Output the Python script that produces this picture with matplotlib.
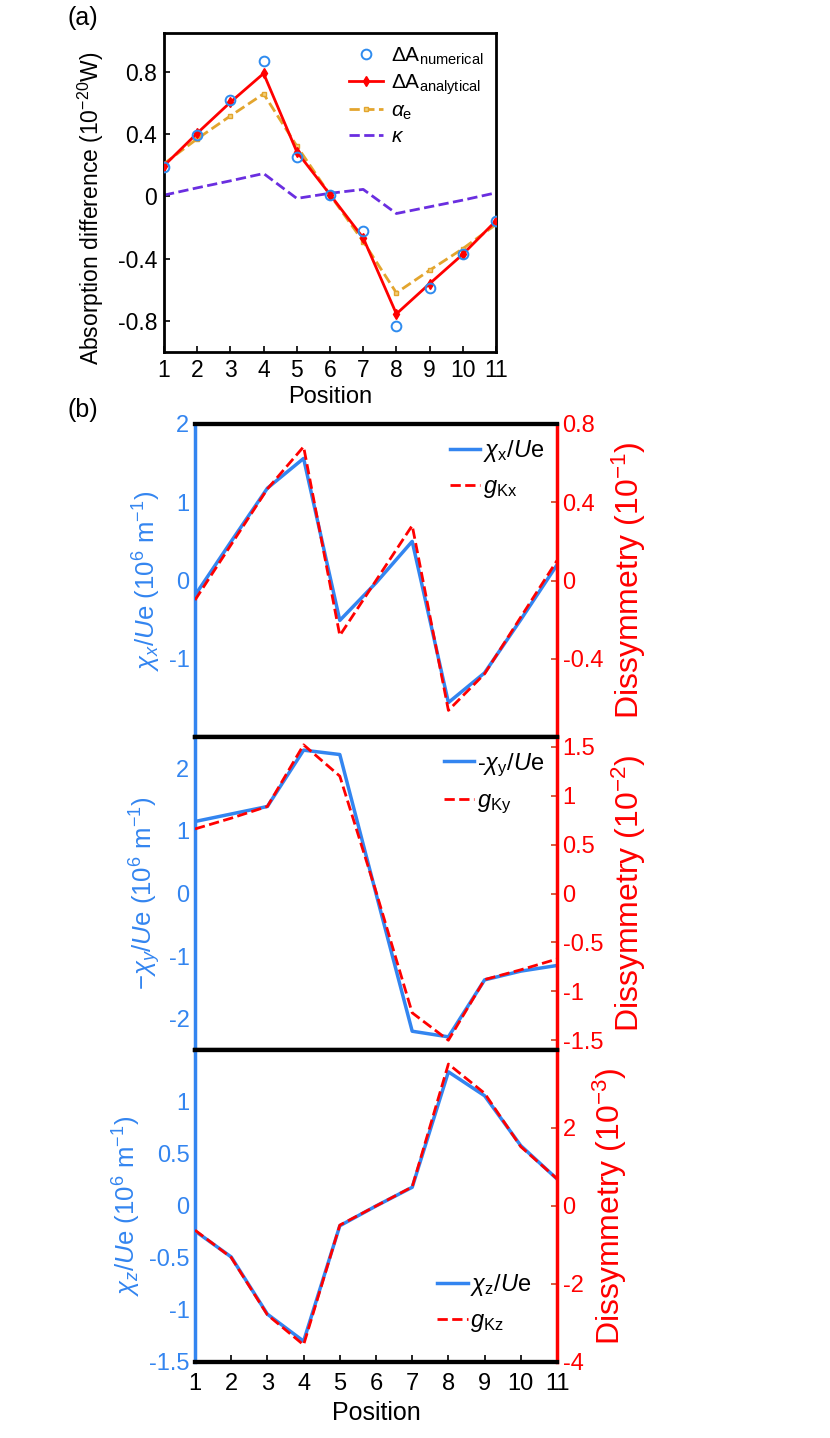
"""Absorption difference and chirality / dissymmetry versus position."""

import matplotlib

matplotlib.use("Agg")
import matplotlib.pyplot as plt
from matplotlib.lines import Line2D

plt.rcParams["font.family"] = ["Liberation Sans", "DejaVu Sans"]
plt.rcParams["mathtext.fontset"] = "custom"
plt.rcParams["mathtext.rm"] = "Liberation Sans"
plt.rcParams["mathtext.it"] = "Liberation Sans:italic"
plt.rcParams["mathtext.bf"] = "Liberation Sans:bold"
plt.rcParams["mathtext.sf"] = "Liberation Sans"
plt.rcParams["axes.unicode_minus"] = False

BLUE = "#3385f0"
RED = "#ff0000"
ORANGE = "#e3a52e"
PURPLE = "#6a2ee0"
CIRCLE_BLUE = "#2e8bef"

W, H = 830, 1438

# ---- data -------------------------------------------------------------
positions = list(range(1, 12))

# panel (a), units of 1e-20 W
delta_a_numerical = [0.186, 0.395, 0.618, 0.867, 0.251, 0.012, -0.22, -0.836, -0.589, -0.372, -0.157]
delta_a_analytical = [0.197, 0.406, 0.605, 0.79, 0.287, 0.012, -0.267, -0.755, -0.561, -0.372, -0.157]
alpha_e = [0.21, 0.37, 0.517, 0.659, 0.324, 0.01, -0.29, -0.62, -0.475, -0.336, -0.18]
kappa = [0.008, 0.055, 0.10, 0.147, -0.013, 0.02, 0.045, -0.11, -0.067, -0.024, 0.023]

# panel (b), chirality in 1e6 m^-1, dissymmetry in the scaled units of each axis
chi_x = [-0.19, 0.5, 1.18, 1.56, -0.51, -0.03, 0.5, -1.56, -1.18, -0.5, 0.2]
g_kx = [-0.10, 0.184, 0.468, 0.684, -0.281, 0.0, 0.281, -0.664, -0.477, -0.187, 0.102]

minus_chi_y = [1.15, 1.27, 1.39, 2.29, 2.22, 0.0, -2.2, -2.29, -1.38, -1.24, -1.15]
g_ky = [0.66, 0.77, 0.89, 1.52, 1.2, 0.02, -1.22, -1.5, -0.88, -0.78, -0.67]

chi_z = [-0.24, -0.49, -1.04, -1.30, -0.19, 0.0, 0.18, 1.29, 1.06, 0.58, 0.26]
g_kz = [-0.62, -1.32, -2.79, -3.56, -0.49, 0.0, 0.49, 3.64, 2.89, 1.52, 0.70]

fmt_ticks = lambda vals: [("%g" % v) for v in vals]


def px_axes(fig, left, top, right, bottom):
    """Add axes given pixel edges measured from the top-left corner."""
    return fig.add_axes([left / W, 1 - bottom / H, (right - left) / W, (bottom - top) / H])


fig = plt.figure(figsize=(W / 100, H / 100), dpi=100)

# ---- panel (a) --------------------------------------------------------
ax_a = px_axes(fig, 164, 33, 496, 352)
ax_a.plot(positions, delta_a_numerical, "o", ms=7, mfc="none", mec=CIRCLE_BLUE, mew=1.4,
          label=r"$\Delta$A$_{\rm numerical}$", zorder=5)
ax_a.plot(positions, delta_a_analytical, "-", color=RED, lw=2, marker="d", ms=5,
          label=r"$\Delta$A$_{\rm analytical}$", zorder=4)
ax_a.plot(positions, alpha_e, "--", color=ORANGE, lw=2, marker="s", ms=3.5,
          mfc="#f3d27a", mec=ORANGE, label=r"$\alpha_{\rm e}$", zorder=3)
ax_a.plot(positions, kappa, "--", color=PURPLE, lw=2, label=r"$\kappa$", zorder=2)

ax_a.set_xlim(1, 11)
ax_a.set_ylim(-1.0, 1.05)
ax_a.set_xticks(positions)
ax_a.set_yticks([-0.8, -0.4, 0, 0.4, 0.8])
ax_a.set_yticklabels(fmt_ticks([-0.8, -0.4, 0, 0.4, 0.8]))
ax_a.tick_params(direction="in", length=4, width=1.2, labelsize=16.5, pad=5)
for sp in ax_a.spines.values():
    sp.set_linewidth(2)
ax_a.set_xlabel("Position", fontsize=17, labelpad=3)
ax_a.set_ylabel(r"Absorption difference (10$^{-20}$W)", fontsize=16.5, labelpad=4)
ax_a.yaxis.set_label_coords(-0.175, 0.45)
ax_a.legend(loc="upper right", frameon=False, fontsize=15, handlelength=1.6,
            handletextpad=0.4, labelspacing=0.25, borderaxespad=0.2)

fig.text(83 / W, 1 - 18 / H, "(a)", fontsize=18, ha="center", va="center")
fig.text(83 / W, 1 - 410 / H, "(b)", fontsize=18, ha="center", va="center")


# ---- panel (b) --------------------------------------------------------
def chirality_panel(top, bottom, chi, g, left_lim, left_ticks, right_lim, right_ticks,
                    left_label, right_label, chi_legend, g_legend, legend_loc,
                    legend_anchor, show_x):
    ax = px_axes(fig, 195, top, 557, bottom)
    tw = ax.twinx()

    ax.plot(positions, chi, "-", color=BLUE, lw=2.5, zorder=3)
    tw.plot(positions, g, "--", color=RED, lw=2, zorder=4)

    ax.set_xlim(1, 11)
    ax.set_ylim(*left_lim)
    tw.set_ylim(*right_lim)
    ax.set_yticks(left_ticks)
    ax.set_yticklabels(fmt_ticks(left_ticks))
    tw.set_yticks(right_ticks)
    tw.set_yticklabels(fmt_ticks(right_ticks))

    ax.tick_params(axis="y", direction="in", length=0, colors=BLUE, labelsize=17, pad=4)
    tw.tick_params(axis="y", direction="in", length=4, width=1.2, color="#d04020",
                   labelcolor=RED, labelsize=17, pad=4)
    if show_x:
        ax.set_xticks(positions)
        ax.tick_params(axis="x", direction="in", length=5, width=1.2, labelsize=17, pad=8)
        ax.set_xlabel("Position", fontsize=18, labelpad=4)
    else:
        ax.set_xticks([])

    for a in (ax, tw):
        a.spines["top"].set_color("black")
        a.spines["top"].set_linewidth(3)
        a.spines["bottom"].set_color("black")
        a.spines["bottom"].set_linewidth(3)
    ax.spines["left"].set_color(BLUE)
    ax.spines["left"].set_linewidth(2.5)
    ax.spines["right"].set_visible(False)
    tw.spines["left"].set_visible(False)
    tw.spines["right"].set_color(RED)
    tw.spines["right"].set_linewidth(2.5)

    ax.set_ylabel(left_label, color=BLUE, fontsize=18.5, labelpad=4)
    tw.set_ylabel(right_label, color=RED, fontsize=23, labelpad=5)

    handles = [Line2D([], [], color=BLUE, lw=2.5), Line2D([], [], color=RED, lw=2, ls="--")]
    tw.legend(handles, [chi_legend, g_legend], loc=legend_loc, bbox_to_anchor=legend_anchor,
              frameon=False, fontsize=17, handlelength=1.3, handletextpad=0.1,
              labelspacing=0.5, borderaxespad=0.0)
    return ax, tw


chirality_panel(424, 737, chi_x, g_kx, (-2, 2), [-1, 0, 1, 2], (-0.8, 0.8),
                [-0.4, 0, 0.4, 0.8],
                r"$\chi_x$/$U$e (10$^6$ m$^{-1}$)", r"Dissymmetry (10$^{-1}$)",
                r"$\chi_{\rm x}$/$U$e", r"$g_{\rm Kx}$", "upper right", (0.99, 0.985), False)

chirality_panel(737, 1050, minus_chi_y, g_ky, (-2.5, 2.5), [-2, -1, 0, 1, 2], (-1.6, 1.6),
                [-1.5, -1, -0.5, 0, 0.5, 1, 1.5],
                r"$-\chi_y$/$U$e (10$^6$ m$^{-1}$)", r"Dissymmetry (10$^{-2}$)",
                r"-$\chi_{\rm y}$/$U$e", r"$g_{\rm Ky}$", "upper right", (0.99, 0.985), False)

chirality_panel(1050, 1362, chi_z, g_kz, (-1.5, 1.5), [-1.5, -1, -0.5, 0, 0.5, 1], (-4, 4),
                [-4, -2, 0, 2],
                r"$\chi_z$/$U$e (10$^6$ m$^{-1}$)", r"Dissymmetry (10$^{-3}$)",
                r"$\chi_{\rm z}$/$U$e", r"$g_{\rm Kz}$", "lower right", (0.955, 0.06), True)

fig.savefig("out.png", dpi=100)
